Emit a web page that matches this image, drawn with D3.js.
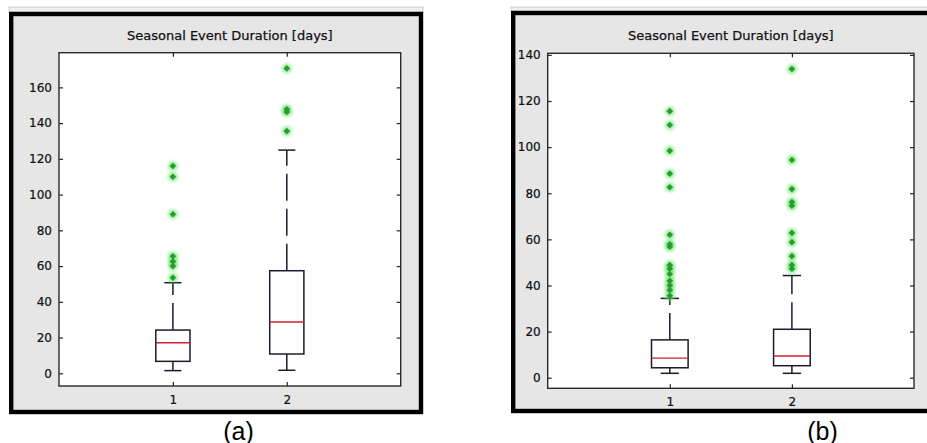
<!DOCTYPE html>
<html>
<head>
<meta charset="utf-8">
<script src="https://cdn.jsdelivr.net/npm/d3@7"></script>
<style>
  html, body { margin: 0; padding: 0; background: #ffffff; }
  svg { display: block; }
</style>
</head>
<body>
<svg id="chart" width="927" height="443"></svg>
<script>
// ---- Data ---------------------------------------------------------------
const categories = [1, 2];
const chartTitle = "Seasonal Event Duration [days]";
const panelLabels = ["(a)", "(b)"];

// Panel (a)
const yTicksA = [0, 20, 40, 60, 80, 100, 120, 140, 160];
const q1A = [6.7, 10.8];
const medianA = [17.1, 28.7];
const q3A = [24.2, 57.4];
const whiskerLowA = [1.5, 1.7];
const whiskerHighA = [50.7, 124.9];
const outliersA = [
  [116, 110, 89, 65.5, 62.5, 60, 53.5],
  [170.6, 147.7, 146.2, 135.5]
];

// Panel (b)
const yTicksB = [0, 20, 40, 60, 80, 100, 120, 140];
const q1B = [4.3, 5.2];
const medianB = [8.5, 9.4];
const q3B = [16.4, 21.0];
const whiskerLowB = [1.9, 1.9];
const whiskerHighB = [34.4, 44.3];
const outliersB = [
  [115.6, 109.6, 98.4, 88.5, 82.6, 62, 57.9, 56.8, 48.8, 47.3, 45, 42, 40, 38, 35.5],
  [133.9, 94.4, 81.8, 76.2, 74.6, 62.8, 58.8, 52.7, 48.9, 47.3]
];

// ---- Layout -------------------------------------------------------------
const panels = [
  {
    label: panelLabels[0], labelX: 238.5,
    frame: { x0: 9, y0: 12, x1: 423, y1: 414 },
    plot: { l: 59, r: 400.7, t: 52.7, b: 386 },
    yDomain: [-7.1, 179.4], yTicks: yTicksA,
    q1: q1A, med: medianA, q3: q3A, lo: whiskerLowA, hi: whiskerHighA, out: outliersA
  },
  {
    label: panelLabels[1], labelX: 822.5,
    frame: { x0: 511, y0: 11, x1: 940, y1: 413 },
    plot: { l: 547.7, r: 914, t: 53.3, b: 388.3 },
    yDomain: [-4.6, 140.7], yTicks: yTicksB,
    q1: q1B, med: medianB, q3: q3B, lo: whiskerLowB, hi: whiskerHighB, out: outliersB
  }
];

const svg = d3.select("#chart");
const tickFont = "'DejaVu Sans', sans-serif";

// soft glow used behind the outlier markers
const defs = svg.append("defs");
defs.append("filter").attr("id", "glow")
  .attr("x", "-100%").attr("y", "-100%").attr("width", "300%").attr("height", "300%")
  .append("feGaussianBlur").attr("stdDeviation", 1.8);

panels.forEach(p => {
  const f = p.frame;
  const g = svg.append("g");

  // strip above the window frame
  g.append("rect")
    .attr("x", f.x0).attr("y", 7)
    .attr("width", f.x1 - f.x0).attr("height", f.y0 - 7)
    .attr("fill", "#efefef").attr("stroke", "#cfcfcf").attr("stroke-width", 1);

  // figure background with thick black frame
  g.append("rect")
    .attr("x", f.x0 + 2.2).attr("y", f.y0 + 2)
    .attr("width", f.x1 - f.x0 - 4.2).attr("height", f.y1 - f.y0 - 4)
    .attr("fill", "#e6e6e6").attr("stroke", "#000").attr("stroke-width", 4.4);

  const pl = p.plot;
  const x = d3.scaleLinear().domain([0, 3]).range([pl.l, pl.r]);
  const y = d3.scaleLinear().domain(p.yDomain).range([pl.b, pl.t]);

  // axes background
  g.append("rect")
    .attr("x", pl.l).attr("y", pl.t)
    .attr("width", pl.r - pl.l).attr("height", pl.b - pl.t)
    .attr("fill", "#fff");

  // title
  g.append("text")
    .attr("x", (pl.l + pl.r) / 2).attr("y", 40)
    .attr("text-anchor", "middle")
    .attr("font-family", tickFont).attr("font-size", 13)
    .attr("fill", "#111").attr("stroke", "#111").attr("stroke-width", 0.25)
    .text(chartTitle);

  // axes with inward ticks on all sides
  const styleAxis = sel => {
    sel.select(".domain").remove();
    sel.selectAll(".tick line").attr("stroke", "#222").attr("stroke-width", 1.2);
    sel.selectAll(".tick text").attr("fill", "#111")
      .attr("stroke", "#111").attr("stroke-width", 0.2)
      .attr("font-family", tickFont).attr("font-size", 12);
  };
  g.append("g").attr("transform", `translate(${pl.l},0)`)
    .call(d3.axisLeft(y).tickValues(p.yTicks).tickSize(-4).tickPadding(7))
    .call(styleAxis);
  g.append("g").attr("transform", `translate(${pl.r},0)`)
    .call(d3.axisRight(y).tickValues(p.yTicks).tickSize(-4).tickFormat(""))
    .call(styleAxis);
  g.append("g").attr("transform", `translate(0,${pl.b})`)
    .call(d3.axisBottom(x).tickValues(categories).tickSize(-4).tickPadding(9).tickFormat(d3.format("d")))
    .call(styleAxis);
  g.append("g").attr("transform", `translate(0,${pl.t})`)
    .call(d3.axisTop(x).tickValues(categories).tickSize(-4).tickFormat(""))
    .call(styleAxis);

  // axes frame
  g.append("rect")
    .attr("x", pl.l).attr("y", pl.t)
    .attr("width", pl.r - pl.l).attr("height", pl.b - pl.t)
    .attr("fill", "none").attr("stroke", "#2a2a2a").attr("stroke-width", 1.4);

  const boxW = 0.3, capW = 0.15;
  categories.forEach((c, i) => {
    const cx = x(c);
    const bl = x(c - boxW / 2), br = x(c + boxW / 2);
    const cl = x(c - capW / 2), cr = x(c + capW / 2);
    const lineCol = "#1b1b2e";

    // whiskers, dashed from the box outward
    g.append("line")
      .attr("x1", cx).attr("x2", cx)
      .attr("y1", y(p.q3[i])).attr("y2", y(p.hi[i]))
      .attr("stroke", lineCol).attr("stroke-width", 1.5)
      .attr("stroke-dasharray", "27,8");
    g.append("line")
      .attr("x1", cx).attr("x2", cx)
      .attr("y1", y(p.q1[i])).attr("y2", y(p.lo[i]))
      .attr("stroke", lineCol).attr("stroke-width", 1.5)
      .attr("stroke-dasharray", "27,8");
    // whisker caps
    [p.hi[i], p.lo[i]].forEach(v => {
      g.append("line")
        .attr("x1", cl).attr("x2", cr)
        .attr("y1", y(v)).attr("y2", y(v))
        .attr("stroke", lineCol).attr("stroke-width", 1.5);
    });
    // box
    g.append("rect")
      .attr("x", bl).attr("y", y(p.q3[i]))
      .attr("width", br - bl).attr("height", y(p.q1[i]) - y(p.q3[i]))
      .attr("fill", "none").attr("stroke", lineCol).attr("stroke-width", 1.5);
    // median
    g.append("line")
      .attr("x1", bl).attr("x2", br)
      .attr("y1", y(p.med[i])).attr("y2", y(p.med[i]))
      .attr("stroke", "#d0202a").attr("stroke-width", 1.3);

    // outliers
    const og = g.append("g");
    og.selectAll("circle.halo").data(p.out[i]).join("circle")
      .attr("class", "halo")
      .attr("cx", cx).attr("cy", d => y(d)).attr("r", 5)
      .attr("fill", "#5ee65e").attr("opacity", 0.6)
      .attr("filter", "url(#glow)");
    og.selectAll("path.mark").data(p.out[i]).join("path")
      .attr("class", "mark")
      .attr("transform", d => `translate(${cx},${y(d)}) rotate(45)`)
      .attr("d", d3.symbol(d3.symbolSquare, 22))
      .attr("fill", "#2c9a33");
  });

  // panel label below the frame
  svg.append("text")
    .attr("x", p.labelX).attr("y", 439.5)
    .attr("text-anchor", "middle")
    .attr("font-family", "'Liberation Sans', Arial, sans-serif")
    .attr("font-size", 25)
    .attr("fill", "#000")
    .text(p.label);
});
</script>
</body>
</html>
